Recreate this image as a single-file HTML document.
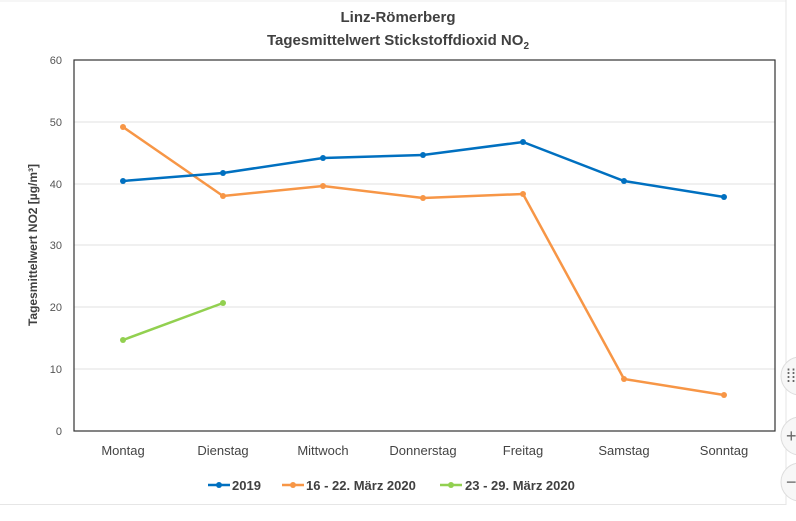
<!DOCTYPE html>
<html><head><meta charset="utf-8"><style>
body{margin:0;background:#fff;width:796px;height:521px;overflow:hidden}
svg{display:block;font-family:"Liberation Sans",sans-serif}
</style></head><body>
<svg width="796" height="521" viewBox="0 0 796 521">
<rect x="0" y="0" width="796" height="521" fill="#fff"/>
<line x1="0" y1="1" x2="786" y2="1" stroke="#eee"/>
<line x1="786" y1="0" x2="786" y2="505" stroke="#e6e6e6"/>
<line x1="0" y1="504.5" x2="786" y2="504.5" stroke="#e6e6e6"/>
<text x="398" y="22" text-anchor="middle" font-size="15" font-weight="bold" fill="#404040">Linz-Römerberg</text>
<text x="398" y="45" text-anchor="middle" font-size="15" font-weight="bold" fill="#404040">Tagesmittelwert Stickstoffdioxid NO<tspan font-size="10" dy="4">2</tspan></text>
<g stroke="#e0e0e0" stroke-width="1">
<line x1="74" y1="122" x2="775" y2="122"/><line x1="74" y1="184" x2="775" y2="184"/>
<line x1="74" y1="245" x2="775" y2="245"/><line x1="74" y1="307" x2="775" y2="307"/>
<line x1="74" y1="369" x2="775" y2="369"/>
</g>
<rect x="74" y="60" width="701" height="371" fill="none" stroke="#333" stroke-width="1.2"/>
<g font-size="11" fill="#555" text-anchor="end">
<text x="62" y="64">60</text><text x="62" y="126">50</text><text x="62" y="188">40</text>
<text x="62" y="249">30</text><text x="62" y="311">20</text><text x="62" y="373">10</text><text x="62" y="435">0</text>
</g>
<text transform="translate(37,245) rotate(-90)" text-anchor="middle" font-size="12" font-weight="bold" fill="#404040">Tagesmittelwert NO2 [µg/m³]</text>
<g font-size="13" fill="#444" text-anchor="middle">
<text x="123" y="455">Montag</text><text x="223" y="455">Dienstag</text><text x="323" y="455">Mittwoch</text>
<text x="423" y="455">Donnerstag</text><text x="523" y="455">Freitag</text><text x="624" y="455">Samstag</text><text x="724" y="455">Sonntag</text>
</g>
<g fill="none" stroke-width="2.5">
<polyline stroke="#f79646" points="123,127 223,196 323,186 423,198 523,194 624,379 724,395"/>
<polyline stroke="#0070c0" points="123,181 223,173 323,158 423,155 523,142 624,181 724,197"/>
<polyline stroke="#92d050" points="123,340 223,303"/>
</g>
<g fill="#f79646"><circle cx="123" cy="127" r="3"/><circle cx="223" cy="196" r="3"/><circle cx="323" cy="186" r="3"/><circle cx="423" cy="198" r="3"/><circle cx="523" cy="194" r="3"/><circle cx="624" cy="379" r="3"/><circle cx="724" cy="395" r="3"/></g>
<g fill="#0070c0"><circle cx="123" cy="181" r="3"/><circle cx="223" cy="173" r="3"/><circle cx="323" cy="158" r="3"/><circle cx="423" cy="155" r="3"/><circle cx="523" cy="142" r="3"/><circle cx="624" cy="181" r="3"/><circle cx="724" cy="197" r="3"/></g>
<g fill="#92d050"><circle cx="123" cy="340" r="3"/><circle cx="223" cy="303" r="3"/></g>
<g font-size="13" font-weight="bold" fill="#404040">
<line x1="208" y1="485" x2="230" y2="485" stroke="#0070c0" stroke-width="2.5"/><circle cx="219" cy="485" r="3" fill="#0070c0"/>
<text x="232" y="490">2019</text>
<line x1="282" y1="485" x2="304" y2="485" stroke="#f79646" stroke-width="2.5"/><circle cx="293" cy="485" r="3" fill="#f79646"/>
<text x="306" y="490">16 - 22. März 2020</text>
<line x1="440" y1="485" x2="462" y2="485" stroke="#92d050" stroke-width="2.5"/><circle cx="451" cy="485" r="3" fill="#92d050"/>
<text x="465" y="490">23 - 29. März 2020</text>
</g>
<g fill="#f7f7f7" stroke="#ddd">
<circle cx="800" cy="376" r="19"/><circle cx="800" cy="436" r="19"/><circle cx="800" cy="482" r="19"/>
</g>
<g fill="#666" font-size="18"><text x="786" y="382">⁞⁞</text><text x="786" y="442">+</text><text x="786" y="488">−</text></g>
</svg>
</body></html>
